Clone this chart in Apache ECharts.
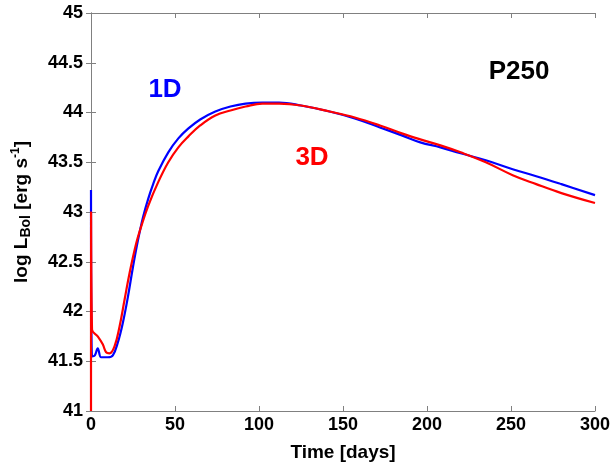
<!DOCTYPE html>
<html><head><meta charset="utf-8">
<script src="https://cdn.jsdelivr.net/npm/echarts@6/dist/echarts.min.js"></script>
<style>html,body{margin:0;padding:0;background:#fff}#c{width:614px;height:467px}</style>
</head><body><div id="c"></div>
<script>
// 1D model (blue)
const t1D = [0, 0.6, 2.3, 4, 6, 8, 10, 13, 16, 19, 22, 25, 28, 31, 34, 37, 40, 46, 52, 58, 65, 74, 83, 92, 102, 112, 125, 142, 157, 172, 185, 196, 208, 220, 235, 251, 265, 280, 300];
const L1D = [43.22, 41.55, 41.56, 41.63, 41.54, 41.54, 41.54, 41.56, 41.69, 41.89, 42.15, 42.45, 42.72, 42.95, 43.13, 43.28, 43.41, 43.60, 43.74, 43.84, 43.93, 44.01, 44.06, 44.09, 44.10, 44.10, 44.07, 44.01, 43.94, 43.85, 43.77, 43.70, 43.65, 43.59, 43.52, 43.43, 43.36, 43.28, 43.17];
// 3D model (red)
const t3D = [0, 0.05, 0.6, 4, 7, 9, 11, 14, 17, 20, 23, 27, 30, 34, 40, 46, 52, 58, 65, 74, 83, 92, 102, 112, 125, 142, 157, 172, 185, 196, 208, 220, 235, 251, 265, 280, 300];
const L3D = [41.0, 43.0, 41.82, 41.75, 41.67, 41.59, 41.58, 41.65, 41.85, 42.12, 42.39, 42.69, 42.86, 43.06, 43.30, 43.50, 43.65, 43.76, 43.87, 43.97, 44.02, 44.06, 44.09, 44.09, 44.07, 44.01, 43.95, 43.87, 43.79, 43.73, 43.67, 43.60, 43.50, 43.37, 43.28, 43.19, 43.09];
const xTicks = [0, 50, 100, 150, 200, 250, 300];
const yTicks = [41, 41.5, 42, 42.5, 43, 43.5, 44, 44.5, 45];
const annotations = [
  {text: '1D', color: '#0000ff'},
  {text: '3D', color: '#ff0000'},
  {text: 'P250', color: '#000000'}
];

const FF = '"Liberation Sans", Arial, sans-serif';
const chart = echarts.init(document.getElementById('c'));
const axisLine = {show: true, lineStyle: {color: '#808080', width: 1}};
const tick = {show: true, inside: true, length: 5, lineStyle: {color: '#808080'}};
const lbl = {color: '#000', fontFamily: FF, fontWeight: 'bold', fontSize: 18};
const annoPos = [[165, 90], [312, 158], [519, 72]];
chart.setOption({
  animation: false,
  grid: {left: 91, right: 19, top: 13, bottom: 55},
  xAxis: [
    {type: 'value', min: xTicks[0], max: xTicks[xTicks.length - 1], interval: 50,
     axisLine, axisTick: tick, splitLine: {show: false},
     axisLabel: Object.assign({margin: 5}, lbl),
     name: 'Time [days]', nameLocation: 'middle', nameGap: 32,
     nameTextStyle: {color: '#000', fontFamily: FF, fontWeight: 'bold', fontSize: 19}},
    {type: 'value', position: 'top', min: 0, max: 300, interval: 50,
     axisLine, axisTick: tick, axisLabel: {show: false}, splitLine: {show: false}}
  ],
  yAxis: [
    {type: 'value', min: yTicks[0], max: yTicks[yTicks.length - 1], interval: 0.5,
     axisLine, axisTick: tick, splitLine: {show: false},
     axisLabel: Object.assign({margin: 8}, lbl),
     name: '{a|log L}{s|Bol}{a| [erg s}{p|-1}{a|]}', nameLocation: 'middle', nameGap: 58,
     nameTextStyle: {rich: {
       a: {color: '#000', fontFamily: FF, fontWeight: 'bold', fontSize: 19},
       s: {color: '#000', fontFamily: FF, fontWeight: 'bold', fontSize: 14, verticalAlign: 'bottom', padding: [9, 0, 0, 0]},
       p: {color: '#000', fontFamily: FF, fontWeight: 'bold', fontSize: 12, verticalAlign: 'top', padding: [0, 0, 9, 0]}
     }}},
    {type: 'value', position: 'right', min: 41, max: 45, interval: 0.5,
     axisLine, axisTick: tick, axisLabel: {show: false}, splitLine: {show: false}}
  ],
  series: [
    {type: 'line', name: '1D', data: t1D.map((t, i) => [t, L1D[i]]), showSymbol: false, smooth: 0.4,
     lineStyle: {color: '#0000ff', width: 2.2}, itemStyle: {color: '#0000ff'}, z: 2},
    {type: 'line', name: '3D', data: t3D.map((t, i) => [t, L3D[i]]), showSymbol: false, smooth: 0.4,
     lineStyle: {color: '#ff0000', width: 2.2}, itemStyle: {color: '#ff0000'}, z: 3}
  ],
  graphic: annotations.map((a, i) => ({
    type: 'text', x: annoPos[i][0], y: annoPos[i][1],
    style: {text: a.text, fill: a.color, font: 'bold 26px ' + FF, textAlign: 'center', textVerticalAlign: 'middle'}
  }))
});
</script></body></html>
